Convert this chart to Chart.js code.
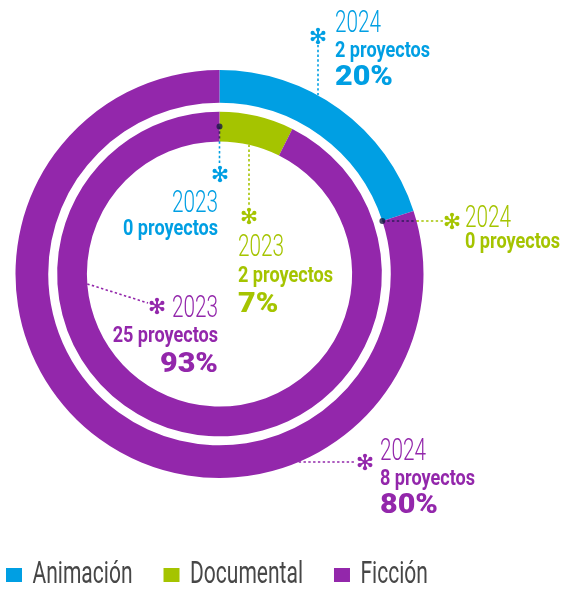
<!DOCTYPE html>
<html>
<head>
<meta charset="utf-8">
<script src="https://cdn.jsdelivr.net/npm/chart.js@4.4.1/dist/chart.umd.min.js"></script>
<style>
  html, body { margin: 0; padding: 0; background: #ffffff; }
  #wrap { position: relative; width: 561px; height: 592px; }
</style>
</head>
<body>
<div id="wrap"><canvas id="c" width="561" height="592"></canvas></div>
<script>
// ---------- DATA ----------
const categories = ['Animación', 'Documental', 'Ficción'];
const years = ['2024', '2023'];
const projects2024 = [2, 0, 8];
const projects2023 = [0, 2, 25];
const categoryColors = ['#009FE3', '#A5C400', '#9327AB'];

// ---------- helpers ----------
const mctx = document.createElement('canvas').getContext('2d');
function textWidth(s, font) { mctx.font = font; return mctx.measureText(s).width; }

// legend: regular font drawn horizontally condensed
const legendFamily = 'Roboto, "Liberation Sans", sans-serif';
const legendFs = 31;
const legendTextW = categories.map(c => textWidth(c, '400 ' + legendFs + 'px ' + legendFamily));
const LSX = 100 / legendTextW[0];          // horizontal condensing factor of the legend
const boxWu = 16 / LSX;                     // box width before condensing (16px on screen)
const legendPad = 31 / LSX;                 // spacing before condensing (31px on screen)
const padR = 122;                           // puts the rings' centre at x = 219.5
const padL = -400;                          // wide legend box so items never wrap
const padB = 582 - legendFs / 2 - 575;      // text middle at y ~ 575
const legendH = legendFs + legendPad + 10;
const padT = legendH + padB - 44;           // centre at y = 274
const legendShift = 6 - LSX * (padL + legendPad);  // first box on screen at x = 6

// label text styles (condensed by horizontal scaling)
const labelFamily = 'Roboto, "Liberation Sans", sans-serif';
const STYLE = {
  year:  { weight: 300, size: 31, ref: '2024', refW: 46 },
  count: { weight: 700, size: 22.5, ref: '2 proyectos', refW: 95 },
  pct:   { weight: 900, size: 28.5, ref: '20%', refW: 58 }
};
for (const k in STYLE) {
  const s = STYLE[k];
  s.font = s.weight + ' ' + s.size + 'px ' + labelFamily;
  s.sx = s.refW / textWidth(s.ref, s.font);
}

const DARK = 'rgba(25,25,70,0.8)';
const ringYear = { 0: years[0], 2: years[1] };

// callout placement (layout only)
const calloutLayout = [
  { ds: 0, cat: 0, star: [318, 36],  tx: 335, align: 'left',  base: [32, 57, 85],    line: { type: 'vx', edge: 'outer' } },
  { ds: 2, cat: 0, star: [220, 174], tx: 218, align: 'right', base: [212, 235],      line: { type: 'zeroV' } },
  { ds: 2, cat: 1, star: [249, 216], tx: 238, align: 'left',  base: [256, 282, 312], line: { type: 'vx', edge: 'inner' } },
  { ds: 2, cat: 2, star: [157, 306], tx: 218, align: 'right', base: [317, 342, 372], line: { type: 'ang', deg: 175.7, to: [148, 303] } },
  { ds: 0, cat: 1, star: [452, 221], tx: 465, align: 'left',  base: [227, 248],      line: { type: 'zeroH' } },
  { ds: 0, cat: 2, star: [365, 462], tx: 380, align: 'left',  base: [460, 485, 513], line: { type: 'hy' } }
];

function drawStar(ctx, x, y, col) {
  ctx.save();
  ctx.setLineDash([]);
  ctx.strokeStyle = col; ctx.fillStyle = col;
  ctx.lineWidth = 1.9; ctx.lineCap = 'round';
  for (let k = 0; k < 6; k++) {
    const a = -Math.PI / 2 + k * Math.PI / 3;
    ctx.beginPath(); ctx.moveTo(x, y); ctx.lineTo(x + 6 * Math.cos(a), y + 6 * Math.sin(a)); ctx.stroke();
    ctx.beginPath(); ctx.arc(x + 6.2 * Math.cos(a), y + 6.2 * Math.sin(a), 2.1, 0, 2 * Math.PI); ctx.fill();
  }
  ctx.restore();
}
function drawText(ctx, s, x, y, st, color, align) {
  ctx.save();
  ctx.font = st.font; ctx.fillStyle = color;
  ctx.textAlign = align; ctx.textBaseline = 'alphabetic';
  ctx.translate(x, y); ctx.scale(st.sx, 1);
  ctx.fillText(s, 0, 0);
  ctx.restore();
}

const calloutPlugin = {
  id: 'callouts',
  afterInit(chart) {
    // draw the library's legend horizontally condensed, like the picture's narrow type
    const lg = chart.legend;
    if (lg && !lg._condensed) {
      const orig = lg.draw.bind(lg);
      lg.draw = function (area) {
        const ctx = chart.ctx;
        ctx.save();
        ctx.translate(legendShift, 0);
        ctx.scale(LSX, 1);
        orig(area);
        ctx.restore();
      };
      lg._condensed = true;
    }
  },
  afterDatasetsDraw(chart) {
    const ctx = chart.ctx;
    calloutLayout.forEach(c => {
      const arc = chart.getDatasetMeta(c.ds).data[c.cat];
      const p = arc.getProps(['x', 'y', 'startAngle', 'endAngle', 'innerRadius', 'outerRadius'], true);
      const values = chart.data.datasets[c.ds].data;
      const total = values.reduce((a, b) => a + b, 0);
      const v = values[c.cat];
      const col = categoryColors[c.cat];
      const [sx, sy] = c.star;
      ctx.save();
      ctx.lineWidth = 1.6;
      ctx.setLineDash([2.4, 2.4]);
      const seg = (x1, y1, x2, y2, cl) => { ctx.strokeStyle = cl; ctx.beginPath(); ctx.moveTo(x1, y1); ctx.lineTo(x2, y2); ctx.stroke(); };
      const dot = (x, y) => { ctx.save(); ctx.fillStyle = DARK; ctx.beginPath(); ctx.arc(x, y, 3, 0, 2 * Math.PI); ctx.fill(); ctx.restore(); };
      const L = c.line;
      if (L.type === 'vx') {
        const r = L.edge === 'outer' ? p.outerRadius : p.innerRadius;
        const dx = sx - p.x;
        const ye = p.y - Math.sqrt(r * r - dx * dx);
        seg(sx, ye, sx, sy + (ye > sy ? 9 : -9), col);
      } else if (L.type === 'hy') {
        const dy = sy - p.y;
        const xe = p.x + Math.sqrt(p.outerRadius * p.outerRadius - dy * dy);
        seg(xe, sy, sx - 9, sy, col);
      } else if (L.type === 'zeroV') {
        const rm = (p.innerRadius + p.outerRadius) / 2;
        const x0 = p.x + rm * Math.cos(p.startAngle), y0 = p.y + rm * Math.sin(p.startAngle);
        const yi = p.y - Math.sqrt(p.innerRadius * p.innerRadius - (x0 - p.x) * (x0 - p.x));
        seg(x0, y0, x0, yi, DARK);
        seg(x0, yi, x0, sy - 9, col);
        dot(x0, y0);
      } else if (L.type === 'zeroH') {
        const x0 = p.x + p.innerRadius * Math.cos(p.startAngle), y0 = p.y + p.innerRadius * Math.sin(p.startAngle);
        const dy = y0 - p.y;
        const xe = p.x + Math.sqrt(p.outerRadius * p.outerRadius - dy * dy);
        seg(x0, y0, xe, y0, DARK);
        seg(xe, y0, sx - 9, y0, col);
        dot(x0, y0);
      } else if (L.type === 'ang') {
        const t = L.deg * Math.PI / 180;
        seg(p.x + p.innerRadius * Math.cos(t), p.y + p.innerRadius * Math.sin(t), L.to[0], L.to[1], col);
      }
      ctx.restore();
      drawStar(ctx, sx, sy, col);
      drawText(ctx, ringYear[c.ds], c.tx, c.base[0], STYLE.year, col, c.align);
      drawText(ctx, v + ' proyectos', c.tx, c.base[1], STYLE.count, col, c.align);
      if (v > 0 && c.base.length > 2) {
        drawText(ctx, Math.round(v / total * 100) + '%', c.tx, c.base[2], STYLE.pct, col, c.align);
      }
    });
  }
};

new Chart(document.getElementById('c'), {
  type: 'doughnut',
  data: {
    labels: categories,
    datasets: [
      { label: years[0], data: projects2024, backgroundColor: categoryColors, borderWidth: 0, weight: 33 },
      { label: 'separador', data: [1], backgroundColor: 'rgba(0,0,0,0)', borderWidth: 0, weight: 9 },
      { label: years[1], data: projects2023, backgroundColor: categoryColors, borderWidth: 0, weight: 30 }
    ]
  },
  options: {
    responsive: false,
    animation: false,
    events: [],
    radius: 204,
    cutout: '65%',
    layout: { padding: { left: padL, right: padR, top: padT, bottom: padB } },
    plugins: {
      tooltip: { enabled: false },
      legend: {
        position: 'bottom',
        align: 'start',
        labels: {
          boxWidth: boxWu,
          boxHeight: 14,
          padding: legendPad,
          color: '#474747',
          font: { family: legendFamily, size: legendFs, weight: 'normal' }
        }
      }
    }
  },
  plugins: [calloutPlugin]
});
</script>
</body>
</html>
